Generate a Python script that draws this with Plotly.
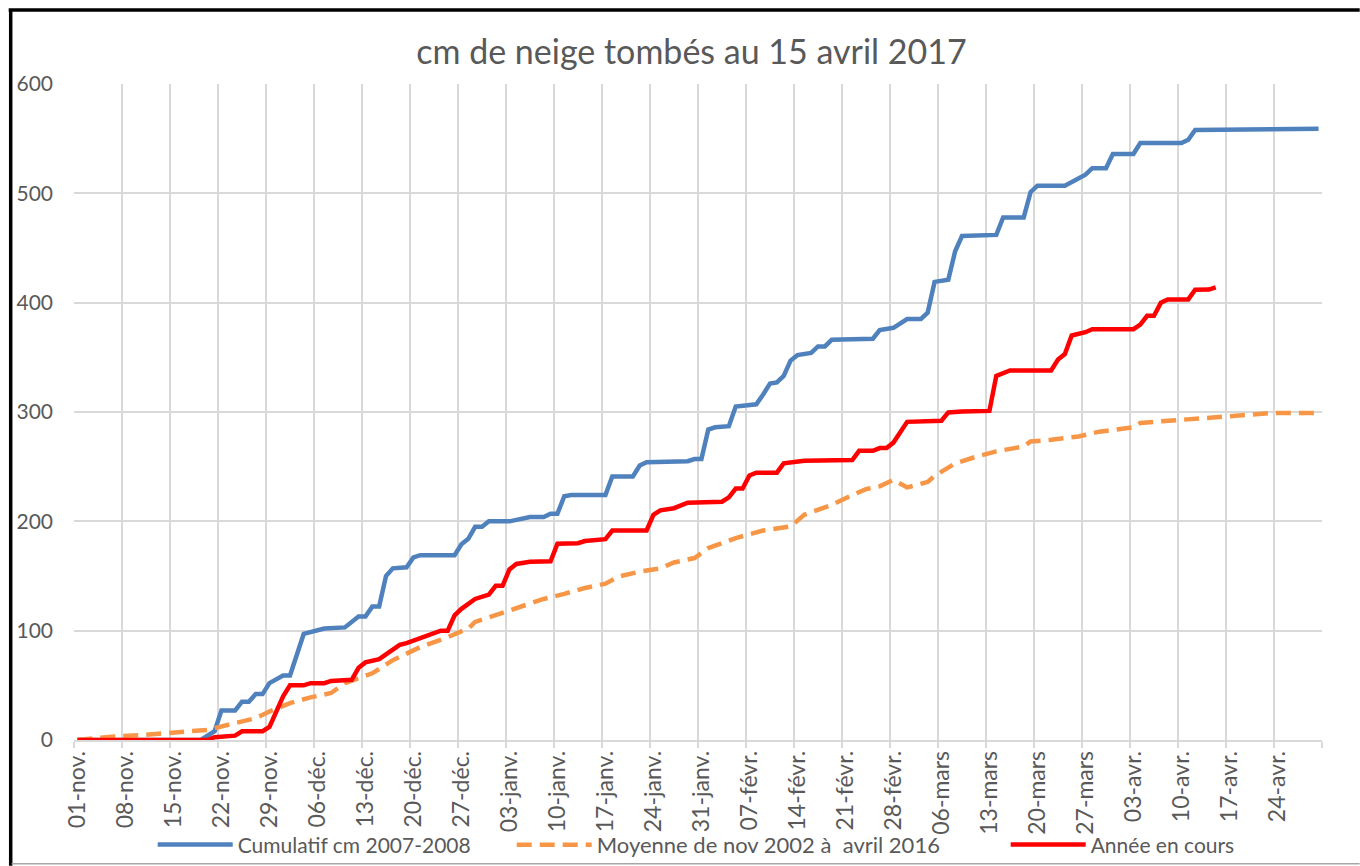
import plotly.graph_objects as go

# ---- data (day index from 01-nov) ----
tick_days = [0, 7, 14, 21, 28, 35, 42, 49, 56, 63, 70, 77, 84, 91, 98, 105, 112, 119, 126, 133, 140, 147, 154, 161, 168, 175]
tick_labels = ["01-nov.", "08-nov.", "15-nov.", "22-nov.", "29-nov.", "06-déc.", "13-déc.", "20-déc.", "27-déc.",
               "03-janv.", "10-janv.", "17-janv.", "24-janv.", "31-janv.", "07-févr.", "14-févr.", "21-févr.", "28-févr.",
               "06-mars", "13-mars", "20-mars", "27-mars", "03-avr.", "10-avr.", "17-avr.", "24-avr."]

blue_days = [0, 18, 20, 21, 23, 24, 25, 26, 27, 28, 30, 31, 33, 35, 36, 39, 41, 42, 43, 44, 45, 46, 48, 49, 50, 55, 56, 57,
             58, 59, 60, 63, 64, 65, 66, 68, 69, 70, 71, 72, 77, 78, 81, 82, 83, 89, 90, 91, 92, 93, 95, 96, 99, 100, 101,
             102, 103, 104, 105, 107, 108, 109, 110, 116, 117, 119, 121, 123, 124, 125, 127, 128, 129, 134, 135, 138, 139,
             140, 144, 147, 148, 150, 151, 154, 155, 161, 162, 163, 181]
blue_vals = [0, 0, 8, 27, 27, 35, 35, 42, 42, 52, 59, 59, 97, 100, 102, 103, 113, 113, 122, 122, 150, 157, 158, 167, 169, 169,
             179, 184, 195, 195, 200, 200, 201, 202, 204, 204, 207, 207, 223, 224, 224, 241, 241, 251, 254, 255, 257, 257,
             284, 286, 287, 305, 307, 316, 326, 327, 333, 347, 352, 354, 360, 360, 366, 367, 375, 377, 385, 385, 391, 419,
             421, 447, 461, 462, 478, 478, 501, 507, 507, 517, 523, 523, 536, 536, 546, 546, 549, 558, 559]

orange_days = [0, 5, 10, 14, 19, 23, 26, 28, 31, 34, 37, 39, 43, 46, 50, 54, 57, 58, 61, 64, 68, 71, 74, 77, 79, 82, 85, 87,
               90, 92, 96, 100, 104, 106, 110, 113, 115, 117, 119, 121, 124, 125, 128, 131, 134, 138, 139, 142, 146, 149,
               152, 154, 155, 159, 163, 168, 171, 174, 181]
orange_vals = [0, 3, 4.8, 6.9, 9.3, 15.5, 20, 26, 33.7, 39, 43, 52, 61, 73, 85, 94, 102, 108, 114.5, 120.6, 129, 133.7, 139,
               143, 149.6, 154, 157, 162.4, 166.4, 175.5, 184.7, 191.6, 195.3, 206, 215, 224, 229.5, 232, 238, 231, 236,
               241.6, 253, 259, 264, 268.5, 273, 274.6, 277.6, 282, 284.6, 286, 290, 292, 294.4, 297, 298.4, 299, 299]

red_days = [0, 19, 20, 22, 23, 24, 27, 28, 30, 31, 33, 34, 36, 37, 40, 41, 42, 44, 46, 47, 48, 51, 53, 54, 55, 56, 58, 60,
            61, 62, 63, 64, 66, 69, 70, 73, 74, 77, 78, 83, 84, 85, 87, 89, 94, 95, 96, 97, 98, 99, 102, 103, 106, 113, 114,
            116, 117, 118, 119, 121, 126, 127, 129, 133, 134, 136, 142, 143, 144, 145, 147, 148, 154, 155, 156, 157, 158,
            159, 162, 163, 165, 166]
red_vals = [0, 0, 2.6, 3.5, 4, 8, 8, 12, 40, 50, 50, 52, 52, 54, 55, 66, 71, 74, 83, 87, 88.6, 95.5, 100, 100, 114, 120, 129,
            133, 141, 141, 156, 161, 163, 163.5, 179.5, 180, 182, 183.7, 191.6, 191.6, 206, 210, 212, 217, 218, 222, 230, 230,
            242, 244.5, 244.5, 253, 255.5, 256, 264.5, 264.5, 267, 267, 272, 291, 292, 299.6, 300.5, 301, 333, 338, 338,
            348, 353, 370, 373, 375.8, 375.8, 380, 388, 388, 400, 403, 403, 411.8, 412, 414]

series_names = ["Cumulatif cm 2007-2008", "Moyenne de nov 2002 à  avril 2016", "Année en cours"]
title_text = "cm de neige tombés au 15 avril 2017"

FONT = "Lato, 'Open Sans', sans-serif"
TXT = "#595959"
GRID = "#D9D9D9"

fig = go.Figure()
fig.add_trace(go.Scatter(x=blue_days, y=blue_vals, mode="lines", name=series_names[0], legend="legend",
                         line=dict(color="#4F81BD", width=4.5)))
fig.add_trace(go.Scatter(x=orange_days, y=orange_vals, mode="lines", name=series_names[1], legend="legend2",
                         line=dict(color="#F79646", width=4.5, dash="15px,8px")))
fig.add_trace(go.Scatter(x=red_days, y=red_vals, mode="lines", name=series_names[2], legend="legend3",
                         line=dict(color="#FF0000", width=4.5)))

# plot-area geometry (pixels) used to place decorations in paper coords
L, R, T, B = 74.3, 1322.3, 84.4, 740.2
W, H = R - L, B - T
def px(xp):
    return (xp - L) / W
def py(yp):
    return (B - yp) / H

def leg(xpix, size=21):
    return dict(orientation="h", x=px(xpix), xanchor="left", y=py(845), yanchor="middle",
                font=dict(family=FONT, size=size, color=TXT), bgcolor="rgba(0,0,0,0)",
                itemwidth=75)

fig.update_layout(
    width=1360, height=866,
    paper_bgcolor="white", plot_bgcolor="white",
    margin=dict(l=74, r=38, t=84, b=126, autoexpand=False),
    title=dict(text=title_text, x=691.5 / 1360, xref="container", xanchor="center",
               y=1 - 52 / 866, yref="container", yanchor="middle",
               font=dict(family=FONT, size=34, color=TXT)),
    font=dict(family=FONT, color=TXT),
    showlegend=True,
    legend=leg(153), legend2=leg(512, 22), legend3=leg(1006),
    xaxis=dict(range=[-0.5, 181.5], tickmode="array", tickvals=tick_days, ticktext=tick_labels,
               tickangle=-90, showgrid=False, ticks="", zeroline=False,
               tickfont=dict(family=FONT, size=23, color=TXT),
               showline=True, linecolor=GRID, linewidth=1.5, automargin=False,
               minor=dict(tick0=-0.5, dtick=7, showgrid=True, gridcolor=GRID, gridwidth=2,
                          ticks="outside", ticklen=6, tickcolor=GRID, tickwidth=1.5)),
    yaxis=dict(range=[0, 600], dtick=100, showgrid=True, gridcolor=GRID, gridwidth=2,
               zeroline=False, showline=False, ticks="", ticklabelstandoff=20,
               tickfont=dict(family=FONT, size=21, color=TXT), automargin=False),
    shapes=[
        dict(type="line", xref="paper", yref="paper", x0=px(11), x1=px(11), y0=py(10.5), y1=py(866),
             line=dict(color="black", width=3.5)),
        dict(type="line", xref="paper", yref="paper", x0=px(9), x1=px(1360), y0=py(10.5), y1=py(10.5),
             line=dict(color="black", width=3.5)),
        dict(type="line", xref="paper", yref="paper", x0=px(12), x1=px(1360), y0=py(864), y1=py(864),
             line=dict(color="#A6A6A6", width=1.5)),
    ],
)

fig.write_html("out.html", config={"displayModeBar": False},
               post_script="document.body.style.margin='0';document.body.style.overflow='hidden';")
